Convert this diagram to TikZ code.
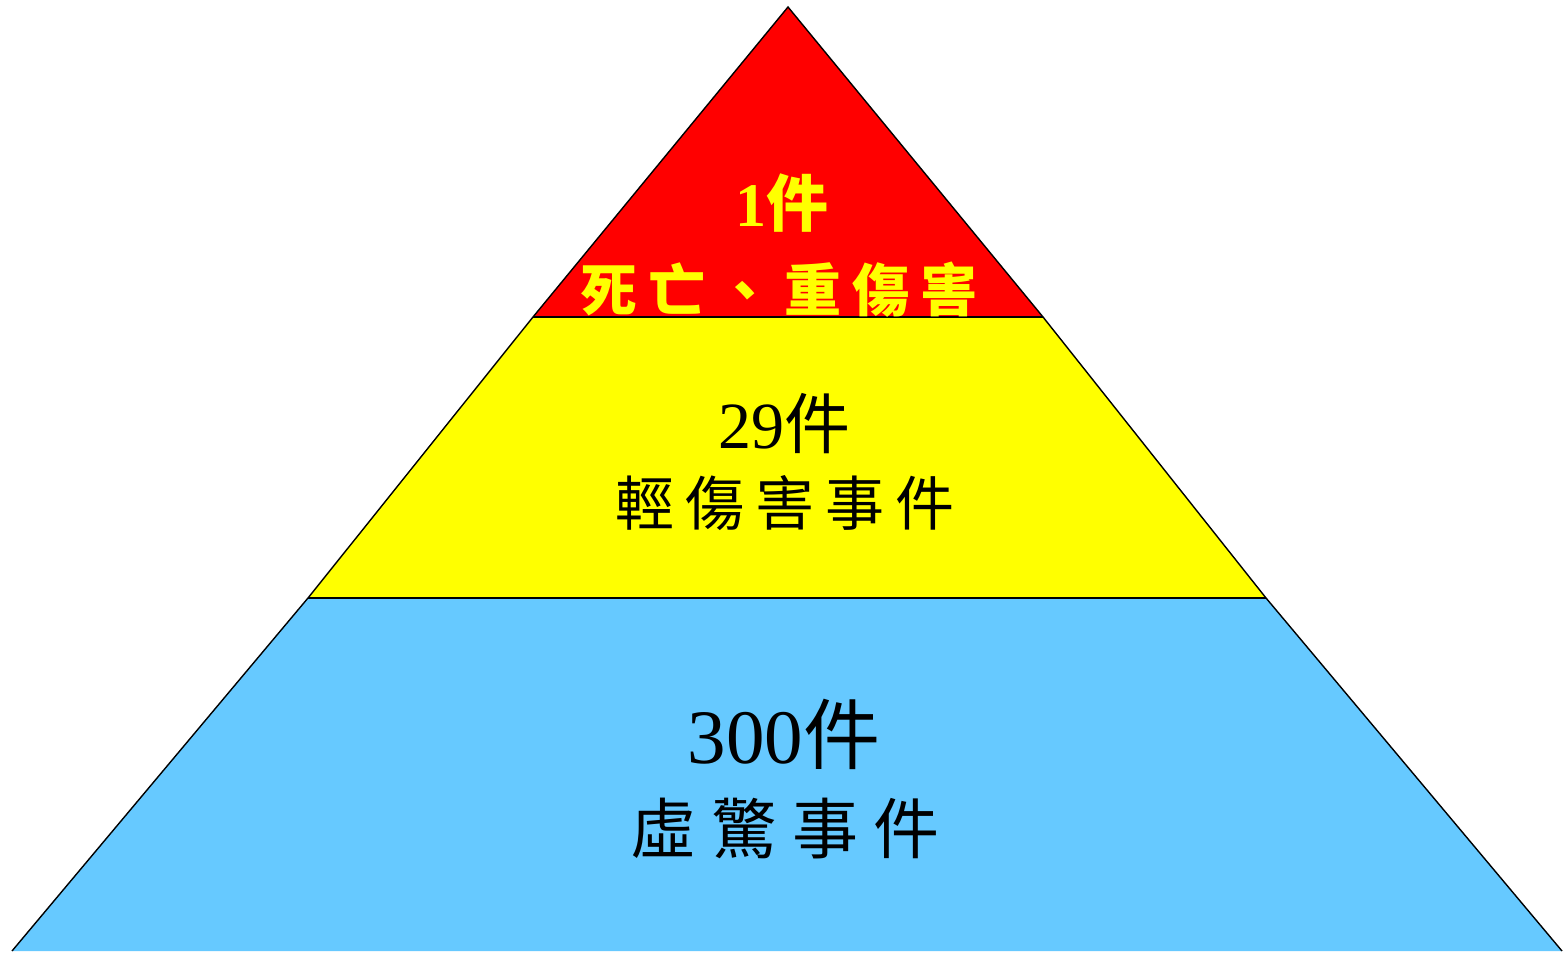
\documentclass[tikz,border=0pt]{standalone}
\usepackage{fontspec}
\newfontfamily\cjk{Noto Sans CJK TC}
\newfontfamily\numfont{Liberation Serif}
\definecolor{topred}{HTML}{FF0000}
\definecolor{midyellow}{HTML}{FFFF00}
\definecolor{baseblue}{HTML}{66C9FF}
\begin{document}
\begin{tikzpicture}[x=1pt,y=-1pt,
  edge/.style={draw=black,line width=1.4pt},
  lbl/.style={inner sep=0pt,anchor=center}]
\useasboundingbox (0,0) rectangle (1568,953);
% coordinates
\coordinate (apex) at (788,7);
\coordinate (rl) at (533,317);
\coordinate (rr) at (1043,317);
\coordinate (yl) at (308,598);
\coordinate (yr) at (1266,598);
\coordinate (bl) at (12,951);
\coordinate (br) at (1562,951);
% fills
\fill[topred] (apex) -- (rr) -- (rl) -- cycle;
\fill[midyellow] (rl) -- (rr) -- (yr) -- (yl) -- cycle;
\fill[baseblue] (yl) -- (yr) -- (br) -- (bl) -- cycle;
% outlines
\draw[edge] (bl) -- (yl) -- (rl) -- (apex) -- (rr) -- (yr) -- (br);
\draw[edge] (rl) -- (rr);
\draw[edge] (yl) -- (yr);
% labels
\node[lbl,text=midyellow] (t1) at (782,203) {\fontsize{62}{62}\selectfont{\numfont\bfseries 1}{\cjk\bfseries 件}};
\node[lbl,text=midyellow] (t2) at (779,290) {\fontsize{57}{57}\selectfont\cjk\bfseries 死\hspace{11pt}亡\hspace{11pt}、\hspace{11pt}重\hspace{11pt}傷\hspace{11pt}害};
\node[lbl] (m1) at (784,424) {\fontsize{66}{66}\selectfont{\numfont 29}{\cjk 件}};
\node[lbl] (m2) at (785,503) {\fontsize{59}{59}\selectfont\cjk 輕\hspace{11pt}傷\hspace{11pt}害\hspace{11pt}事\hspace{11pt}件};
\node[lbl] (b1) at (784,734) {\fontsize{77}{77}\selectfont{\numfont 300}{\cjk 件}};
\node[lbl] (b2) at (785,829) {\fontsize{66}{66}\selectfont\cjk 虛\hspace{15pt}驚\hspace{15pt}事\hspace{15pt}件};
\end{tikzpicture}
\end{document}
